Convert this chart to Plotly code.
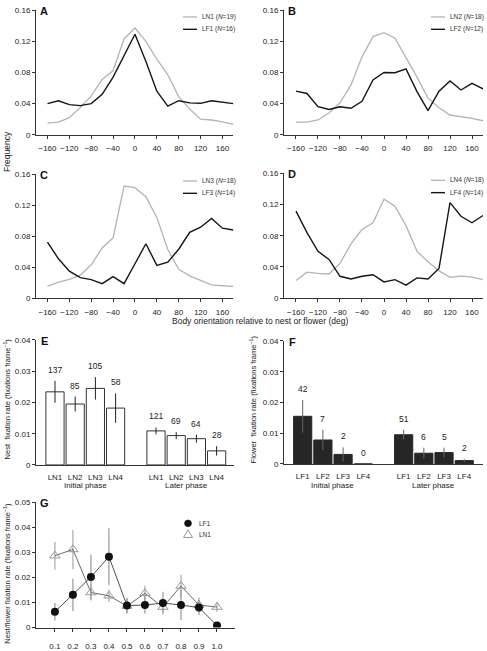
import plotly.graph_objects as go

W, H = 487, 651
FONT = "Liberation Sans, Arial, sans-serif"

# ---------------- data ----------------
angles = [-160, -140, -120, -100, -80, -60, -40, -20, 0, 20, 40, 60, 80, 100, 120, 140, 160, 180]

A_LN1 = [0.015, 0.0163, 0.022, 0.035, 0.05, 0.071, 0.0825, 0.123, 0.137, 0.12, 0.097, 0.077, 0.049, 0.033, 0.02, 0.019, 0.0167, 0.0133]
A_LF1 = [0.04, 0.0437, 0.0387, 0.0375, 0.04, 0.052, 0.074, 0.101, 0.129, 0.094, 0.056, 0.0367, 0.0437, 0.041, 0.0404, 0.0437, 0.042, 0.04]
B_LN2 = [0.0163, 0.0163, 0.019, 0.028, 0.041, 0.064, 0.1, 0.126, 0.131, 0.124, 0.099, 0.074, 0.047, 0.0346, 0.0254, 0.0233, 0.021, 0.018]
B_LF2 = [0.056, 0.053, 0.036, 0.0325, 0.036, 0.034, 0.043, 0.0704, 0.08, 0.0796, 0.0846, 0.0554, 0.031, 0.056, 0.069, 0.0575, 0.066, 0.059]
C_LN3 = [0.0154, 0.021, 0.0246, 0.03, 0.0433, 0.065, 0.078, 0.1446, 0.1425, 0.131, 0.104, 0.063, 0.0375, 0.029, 0.0233, 0.0175, 0.0163, 0.0154]
C_LF3 = [0.0725, 0.051, 0.035, 0.0267, 0.0242, 0.019, 0.028, 0.019, 0.0446, 0.0704, 0.0425, 0.0467, 0.0633, 0.085, 0.0917, 0.103, 0.0904, 0.088]
D_LN4 = [0.0225, 0.0333, 0.0317, 0.031, 0.0446, 0.0696, 0.088, 0.0967, 0.127, 0.118, 0.093, 0.06, 0.0467, 0.035, 0.0267, 0.0283, 0.027, 0.0237]
D_LF4 = [0.1117, 0.084, 0.06, 0.0496, 0.028, 0.0246, 0.028, 0.03, 0.0208, 0.0237, 0.0167, 0.026, 0.0246, 0.038, 0.1225, 0.105, 0.0967, 0.106]

legend_AD = [("LN1", "19", "LF1", "16"), ("LN2", "18", "LF2", "12"),
             ("LN3", "18", "LF3", "14"), ("LN4", "18", "LF4", "14")]

nest_cats = ["LN1", "LN2", "LN3", "LN4", "LN1", "LN2", "LN3", "LN4"]
nest_rate = [0.0234, 0.0195, 0.0245, 0.0182, 0.0109, 0.0094, 0.0084, 0.0045]
nest_err = [0.0035, 0.0024, 0.0036, 0.0047, 0.0011, 0.0011, 0.0013, 0.0015]
nest_n = ["137", "85", "105", "58", "121", "69", "64", "28"]

flower_cats = ["LF1", "LF2", "LF3", "LF4", "LF1", "LF2", "LF3", "LF4"]
flower_rate = [0.0155, 0.0078, 0.0031, 0.0, 0.0095, 0.0035, 0.0037, 0.0011]
flower_err = [0.0053, 0.0033, 0.0023, 0.0, 0.0016, 0.0018, 0.0016, 0.0005]
flower_n = ["42", "7", "2", "0", "51", "6", "5", "2"]

phases = ["Initial phase", "Later phase"]

g_bins = [0.1, 0.2, 0.3, 0.4, 0.5, 0.6, 0.7, 0.8, 0.9, 1.0]
g_ticktext = ["0.1", "0.2", "0.3", "0.4", "0.5", "0.6", "0.7", "0.8", "0.9", "1.0"]
G_LF1 = [0.0063, 0.0131, 0.0202, 0.0283, 0.0088, 0.009, 0.0098, 0.009, 0.008, 0.0008]
G_LF1_err = [0.0035, 0.0065, 0.009, 0.0114, 0.003, 0.0035, 0.0045, 0.006, 0.003, 0.0005]
G_LN1 = [0.0287, 0.0312, 0.014, 0.0127, 0.0086, 0.0137, 0.0082, 0.0166, 0.009, 0.0082]
G_LN1_err = [0.0055, 0.0078, 0.0032, 0.0025, 0.003, 0.003, 0.002, 0.0045, 0.003, 0.002]

# ---------------- layout helpers ----------------
def px(x):
    return x / W

def py(y):
    return 1 - y / H

def xdom(a, b):
    return [a / W, b / W]

def ydom(top, bottom):
    return [1 - bottom / H, 1 - top / H]

GRAY = "#b4b4b4"
BLACK = "#151515"
AX = "#333333"

fig = go.Figure()

axis_common = dict(showline=True, linecolor=AX, linewidth=1, ticks="outside", ticklen=3,
                   tickcolor=AX, tickwidth=1, showgrid=False, zeroline=False,
                   tickfont=dict(family=FONT, size=8, color="#222"))

panels_AD = [
    (1, (36, 233.4), (6.3, 134.3), [-181, 180]),
    (2, (284, 483), (6.3, 134.3), [-181.8, 180]),
    (3, (36, 233.4), (174.7, 302.3), [-181, 180]),
    (4, (284, 483), (174, 302), [-181.8, 180]),
]
series_AD = [(A_LN1, A_LF1), (B_LN2, B_LF2), (C_LN3, C_LF3), (D_LN4, D_LF4)]
letters = ["A", "B", "C", "D"]

layout = dict(width=W, height=H, margin=dict(l=0, r=0, t=0, b=0),
              plot_bgcolor="white", paper_bgcolor="white", showlegend=False)
annotations = []
shapes = []


def rot_title(x, y, text, size=7.5):
    annotations.append(dict(x=px(x), y=py(y), xref="paper", yref="paper", text=text,
                            textangle=-90, showarrow=False, xanchor="center", yanchor="middle",
                            font=dict(family=FONT, size=size, color="#222")))


def letter(x, y, text):
    annotations.append(dict(x=px(x), y=py(y), xref="paper", yref="paper",
                            text=f"<b>{text}</b>", showarrow=False, xanchor="center", yanchor="middle",
                            font=dict(family=FONT, size=11, color="#111")))


for (i, xd_, yd_, xr), (ln, lf), let, leg in zip(panels_AD, series_AD, letters, legend_AD):
    xa = "x" if i == 1 else f"x{i}"
    ya = "y" if i == 1 else f"y{i}"
    fig.add_trace(go.Scatter(x=angles, y=ln, mode="lines", line=dict(color=GRAY, width=1.3),
                             xaxis=xa, yaxis=ya))
    fig.add_trace(go.Scatter(x=angles, y=lf, mode="lines", line=dict(color=BLACK, width=1.4),
                             xaxis=xa, yaxis=ya))
    layout[f"xaxis{i if i > 1 else ''}"] = dict(axis_common, domain=xdom(*xd_), range=xr,
                                                  anchor=ya, tickvals=list(range(-160, 161, 40)),
                                                  ticklabelstandoff=3,
                                                  ticktext=[str(v).replace("-", "\u2212") for v in range(-160, 161, 40)])
    layout[f"yaxis{i if i > 1 else ''}"] = dict(axis_common, domain=ydom(*yd_), range=[0, 0.16],
                                                  anchor=xa, tickvals=[0, 0.04, 0.08, 0.12, 0.16],
                                                  ticktext=["0", "0.04", "0.08", "0.12", "0.16"])
    letter(xd_[0] + 8, yd_[0] + 1, let)
    lx = xd_[0] + 147
    for k, (name, n, col, wdt) in enumerate([(leg[0], leg[1], GRAY, 1.3), (leg[2], leg[3], BLACK, 1.4)]):
        ly = yd_[0] + 7 + k * 12.7
        shapes.append(dict(type="line", xref="paper", yref="paper", x0=px(lx), x1=px(lx + 14),
                           y0=py(ly), y1=py(ly), line=dict(color=col, width=wdt)))
        annotations.append(dict(x=px(lx + 17), y=py(ly), xref="paper", yref="paper",
                                text=f"{name} (<i>N</i>={n})", showarrow=False, xanchor="left",
                                yanchor="middle", font=dict(family=FONT, size=6.5, color="#333")))

rot_title(7, 152, "Frequency", size=8.5)
annotations.append(dict(x=px(260), y=py(325), xref="paper", yref="paper",
                        text="Body orientation relative to nest or flower (deg)",
                        xanchor="center", yanchor="middle",
                        showarrow=False, font=dict(family=FONT, size=8.5, color="#222")))

# ---------------- E and F bars ----------------
bar_pos = [1, 2, 3, 4, 6, 7, 8, 9]
bar_specs = [
    (5, (36, 234), (345, 473.3), [0.06, 9.86], nest_rate, nest_err, nest_n, nest_cats,
     "white", "#333", "#222", "E", "Nest  fixation rate (fixations frame<sup>\u22121</sup>)", 7),
    (6, (284, 483), (346, 472.3), [0.074, 9.93], flower_rate, flower_err, flower_n, flower_cats,
     "#262626", "#262626", "#666", "F", "Flower  fixation rate (fixations frame<sup>\u22121</sup>)", 253),
]
for (i, xd_, yd_, xr, vals, errs, ns, cats, fc, lc, ec, let, ytitle, tx) in bar_specs:
    xa, ya = f"x{i}", f"y{i}"
    fig.add_trace(go.Bar(x=bar_pos, y=vals, width=0.9, marker=dict(color=fc, line=dict(color=lc, width=1)),
                         error_y=dict(type="data", array=errs, color=ec, thickness=1, width=0),
                         xaxis=xa, yaxis=ya))
    layout[f"xaxis{i}"] = dict(axis_common, domain=xdom(*xd_), range=xr, anchor=ya,
                               tickvals=bar_pos, ticktext=cats, ticks="", ticklabelstandoff=4,
                               tickfont=dict(family=FONT, size=8, color="#222"))
    layout[f"yaxis{i}"] = dict(axis_common, domain=ydom(*yd_), range=[0, 0.04], anchor=xa,
                               tickvals=[0, 0.01, 0.02, 0.03, 0.04],
                               ticktext=["0", "0.01", "0.02", "0.03", "0.04"])
    for p, v, e, n in zip(bar_pos, vals, errs, ns):
        annotations.append(dict(x=p, y=v + e, xref=xa, yref=ya, text=n, showarrow=False,
                                yanchor="middle", yshift=11,
                                font=dict(family=FONT, size=8.5, color="#222")))
    for ph, cx in zip(phases, [2.5, 7.5]):
        annotations.append(dict(x=cx, y=py(494.5), xref=xa, yref="paper", text=ph, showarrow=False,
                                xanchor="center", yanchor="middle",
                                font=dict(family=FONT, size=8, color="#222")))
    letter(xd_[0] + 8, yd_[0] + 1, let)
    rot_title(tx, 406, ytitle)

# ---------------- G ----------------
fig.add_trace(go.Scatter(x=g_bins, y=G_LN1, mode="lines+markers",
                         line=dict(color="#444", width=0.8),
                         marker=dict(symbol="triangle-up-open", size=9, color="#999", line=dict(width=1)),
                         error_y=dict(type="data", array=G_LN1_err, color="#aaa", thickness=1.2, width=0),
                         xaxis="x7", yaxis="y7"))
fig.add_trace(go.Scatter(x=g_bins, y=G_LF1, mode="lines+markers",
                         line=dict(color="#222", width=0.8),
                         marker=dict(symbol="circle", size=8, color="#111"),
                         error_y=dict(type="data", array=G_LF1_err, color="#999", thickness=1.2, width=0),
                         xaxis="x7", yaxis="y7"))
layout["xaxis7"] = dict(axis_common, domain=xdom(36, 235), range=[-0.005, 1.1], anchor="y7",
                        tickvals=g_bins, ticktext=g_ticktext, ticklabelstandoff=8)
layout["yaxis7"] = dict(axis_common, domain=ydom(511.7, 640.3), range=[0, 0.05], anchor="x7",
                        tickvals=[0, 0.01, 0.02, 0.03, 0.04, 0.05],
                        ticktext=["0", "0.01", "0.02", "0.03", "0.04", "0.05"])
letter(44, 512.5, "G")
rot_title(7, 585, "Nest/flower fixation rate (fixations frame<sup>\u22121</sup>)")
# G legend
shapes.append(dict(type="circle", xref="paper", yref="paper", x0=px(184.5), x1=px(191.5),
                   y0=py(536.8), y1=py(529.8), fillcolor="#111", line=dict(color="#111", width=0.5)))
tx0, ty0 = 188, 544.3
shapes.append(dict(type="path", xref="paper", yref="paper",
                   path=f"M {px(tx0-4.5)} {py(ty0+3.5)} L {px(tx0+4.5)} {py(ty0+3.5)} L {px(tx0)} {py(ty0-4.5)} Z",
                   line=dict(color="#999", width=1)))
for name, yy in [("LF1", 533.3), ("LN1", 544.3)]:
    annotations.append(dict(x=px(197), y=py(yy), xref="paper", yref="paper", text=name,
                            showarrow=False, xanchor="left", yanchor="middle",
                            font=dict(family=FONT, size=6.5, color="#333")))

layout["annotations"] = annotations
layout["shapes"] = shapes
fig.update_layout(**layout)
fig.write_html("out.html")
